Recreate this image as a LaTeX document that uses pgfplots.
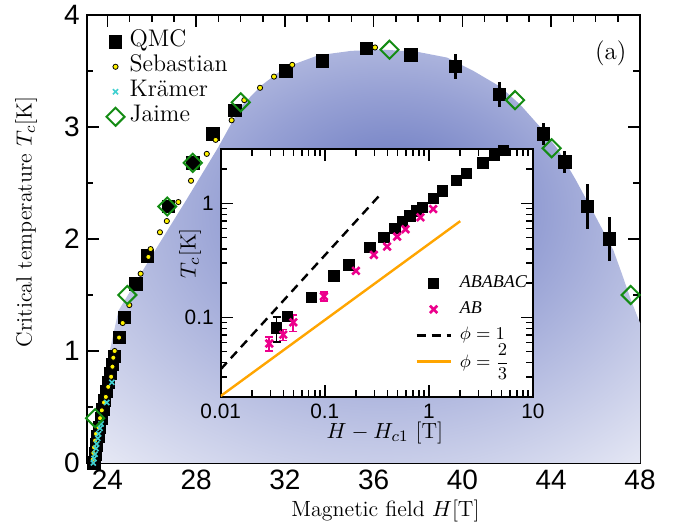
\documentclass[border=0pt]{standalone}
\usepackage{fontspec}
\usepackage{amsmath}
\usepackage{pgfplots}
\pgfplotsset{compat=1.18}
\newfontfamily\ticksans{Liberation Sans}
\newfontfamily\legserif{Liberation Serif}
\definecolor{jaime}{RGB}{20,140,20}
\definecolor{kram}{RGB}{64,208,208}
\definecolor{domeblue}{RGB}{105,120,192}
\definecolor{domemid}{RGB}{150,160,212}
\definecolor{orng}{RGB}{255,165,0}
\pgfdeclareradialshading{dome}{\pgfpoint{3bp}{8bp}}{color(0bp)=(domeblue); color(14bp)=(domemid); color(44bp)=(white); color(50bp)=(white)}
\newcommand\legfont{\fontsize{12}{13}\selectfont}
\newcommand\insetlegfont{\fontsize{9}{11}\selectfont}
\begin{document}
\begin{tikzpicture}
\useasboundingbox (0,0) rectangle (340pt,261.5pt);
\begin{axis}[
  at={(43.35pt,30pt)}, anchor=south west,
  scale only axis, width=276.65pt, height=224pt,
  xmin=23.07, xmax=48, ymin=0, ymax=4,
  xtick={24,28,...,48}, minor x tick num=3,
  ytick={0,1,2,3,4}, minor y tick num=1,
  tick align=inside,
  major tick length=6pt, minor tick length=3.3pt,
  axis line style={line width=1pt},
  every tick/.style={black, line width=0.8pt},
  tick label style={font=\fontsize{14}{16}\selectfont\ticksans},
  /pgf/number format/assume math mode=true,
  xlabel={Magnetic field $H$[T]},
  ylabel={Critical temperature $T_c$[K]},
  label style={font=\fontsize{11}{13}\selectfont},
  xlabel style={at={(axis description cs:0.54,-0.107)}, anchor=center},
  ylabel style={at={(axis description cs:-0.1097,0.538)}, anchor=center},
  clip=false,
  legend cell align=left,
  legend image code/.code={\draw[mark repeat=2,mark phase=2] plot coordinates {(0cm,0cm) (0.2cm,0cm) (0.4cm,0cm)};},
  legend style={at={(axis description cs:0.035,0.969)}, anchor=north west, draw=none, fill=none,
    font=\legfont, row sep=0pt, inner sep=0pt,
    nodes={font=\legfont, inner sep=0pt, text height=8.8pt, text depth=3.7pt}},
]
\addplot[draw=none, shade, shading=dome, forget plot] coordinates {
 (23.3,0) (23.6,0.4) (24.0,0.9) (24.5,1.36) (26,1.85) (27.5,2.33) (29,2.82) (30,3.18)
 (31,3.38) (32,3.53) (33.5,3.64) (35,3.68) (36.5,3.69) (38,3.67) (39.3,3.62) (40.5,3.50)
 (41.7,3.36) (42.6,3.2) (43.5,3.0) (44.3,2.8) (45.1,2.53) (46,2.2) (46.8,1.9) (47.2,1.68)
 (47.6,1.45) (48,1.25) (48,0)} -- cycle;
\addplot[only marks, mark=square*, mark size=3.1pt, black,
  error bars/.cd, y dir=both, y explicit, error bar style={line width=1.5pt}, error mark=none]
 coordinates {
 (23.40,0.00) (23.46,0.08) (23.52,0.16) (23.58,0.24) (23.65,0.32) (23.72,0.40) (23.80,0.48)
 (23.88,0.56) (23.97,0.64) (24.06,0.72) (24.15,0.80) (24.24,0.88) (24.32,0.95) (24.54,1.12)
 (24.77,1.30) (25.29,1.60) (25.80,1.85) (26.75,2.29) (27.85,2.68) (28.75,2.94) (29.75,3.15)
 (32.05,3.50) (33.70,3.59) (35.68,3.70) (37.67,3.645)
 (39.69,3.54) +- (0,0.11) (41.66,3.29) +- (0,0.11) (43.64,2.94) +- (0,0.1)
 (44.62,2.69) +- (0,0.1) (45.62,2.29) +- (0,0.2) (46.61,2.0) +- (0,0.2)};
\addlegendentry{\hspace{2.5pt}\legfont QMC}
\addplot[only marks, mark=*, mark size=1.3pt, mark options={fill=yellow, draw=black, line width=0.4pt}] coordinates {
 (23.34,0.03) (23.37,0.09) (23.40,0.14) (23.45,0.20) (23.49,0.26) (23.59,0.32) (23.67,0.40)
 (23.75,0.47) (23.85,0.54) (23.93,0.59) (24.04,0.68) (24.17,0.77) (24.23,0.86) (24.27,0.94)
 (24.33,1.00) (24.53,1.12) (24.69,1.25) (24.99,1.41) (25.50,1.69) (25.85,1.84) (25.95,1.91)
 (26.37,2.06) (26.68,2.16) (27.20,2.33) (27.77,2.52) (28.48,2.76) (28.88,2.885) (29.60,3.06)
 (30.17,3.24) (30.88,3.35) (31.51,3.45) (32.33,3.555) (36.06,3.71)};
\addlegendentry{\hspace{2.5pt}\legfont Sebastian}
\addplot[only marks, mark=x, mark size=1.8pt, kram, line width=0.8pt] coordinates {
 (23.37,0.00) (23.40,0.04) (23.45,0.08) (23.49,0.13) (23.52,0.17) (23.57,0.22) (23.61,0.26)
 (23.67,0.31) (23.72,0.35) (23.97,0.54) (24.20,0.72)};
\addlegendentry{\hspace{2.5pt}\legfont Krämer}
\addplot[only marks, mark=square, mark size=3.2pt, jaime, line width=1pt, mark options={rotate=45}] coordinates {
 (23.45,0.40) (24.90,1.50) (26.70,2.29) (27.85,2.68) (30.01,3.22) (36.71,3.69) (42.37,3.24)
 (44.02,2.81) (47.58,1.50)};
\addlegendentry{\hspace{2.5pt}\legfont Jaime}
\node[font=\fontsize{12.5}{14}\selectfont] at (axis description cs:0.947,0.914) {(a)};
\end{axis}
\begin{axis}[
  at={(110.35pt,63pt)}, anchor=south west,
  scale only axis, width=156.15pt, height=124pt,
  xmode=log, ymode=log,
  xmin=0.01, xmax=10, ymin=0.02, ymax=3,
  xtick={0.01,0.1,1,10}, xticklabels={0.01,0.1,1,10},
  ytick={0.1,1}, yticklabels={0.1,1},
  minor xtick={0.02,0.03,0.04,0.05,0.06,0.07,0.08,0.09,0.2,0.3,0.4,0.5,0.6,0.7,0.8,0.9,2,3,4,5,6,7,8,9},
  minor ytick={0.03,0.04,0.05,0.06,0.07,0.08,0.09,0.2,0.3,0.4,0.5,0.6,0.7,0.8,0.9,2},
  tick align=inside,
  major tick length=6pt, minor tick length=3.3pt,
  axis line style={line width=1pt},
  every tick/.style={black, line width=0.8pt},
  axis background/.style={fill=white},
  tick label style={font=\fontsize{10.4}{12}\selectfont\ticksans},
  xlabel={$H - H_{c1}$ [T]},
  ylabel={$T_c$[K]},
  label style={font=\fontsize{11}{13}\selectfont},
  xlabel style={at={(axis description cs:0.526,-0.145)}, anchor=center},
  ylabel style={at={(axis description cs:-0.098,0.58)}, anchor=center},
  legend cell align=left,
  legend style={at={(axis description cs:0.622,0.512)}, anchor=north west, draw=none, fill=none,
    font=\insetlegfont, row sep=0pt, inner sep=0pt,
    nodes={font=\insetlegfont, inner sep=0pt, text height=8.5pt, text depth=4.5pt}},
]
\addplot[only marks, mark=square*, mark size=2.6pt, black,
  error bars/.cd, y dir=both, y explicit, error bar style={line width=0.8pt},
  error mark options={rotate=90, mark size=2pt, line width=0.8pt}]
 coordinates {
 (0.0345,0.081) +- (0,0.02) (0.0436,0.102) +- (0,0.008) (0.0747,0.150) (0.122,0.231) (0.171,0.289)
 (0.271,0.412) (0.369,0.504) (0.471,0.604) (0.557,0.691) (0.655,0.775) (0.759,0.857)
 (0.867,0.923) (1.10,1.106) (1.34,1.29) (1.84,1.60) (2.29,1.83) (3.31,2.27) (4.28,2.65) (5.23,2.93)};
\addlegendentry{\hspace{4pt}\insetlegfont\legserif\itshape ABABAC}
\addplot[only marks, mark=x, mark size=2.6pt, magenta, line width=1.3pt,
  error bars/.cd, y dir=both, y explicit, error bar style={line width=0.8pt},
  error mark options={rotate=90, mark size=2pt, line width=0.8pt}]
 coordinates {
 (0.0293,0.0589) +- (0,0.008) (0.0399,0.0705) +- (0,0.008) (0.0498,0.0904) +- (0,0.015)
 (0.098,0.153) +- (0,0.014) (0.199,0.256) (0.296,0.353) (0.397,0.418) (0.495,0.511)
 (0.596,0.592) (0.829,0.755) (1.10,0.891)};
\addlegendentry{\hspace{4pt}\insetlegfont\legserif\itshape AB}
\addplot[black, line width=1.2pt, dash pattern=on 4.5pt off 3pt] coordinates {(0.01,0.035) (0.35,1.225)};
\addlegendentry{\hspace{4pt}\insetlegfont$\phi = 1$}
\addplot[orng, line width=1.2pt] coordinates {(0.01,0.0204) (2,0.698)};
\addlegendentry{\hspace{4pt}\insetlegfont\raisebox{-1pt}{$\phi = \dfrac{2}{3}$}}
\end{axis}
\end{tikzpicture}
\end{document}
